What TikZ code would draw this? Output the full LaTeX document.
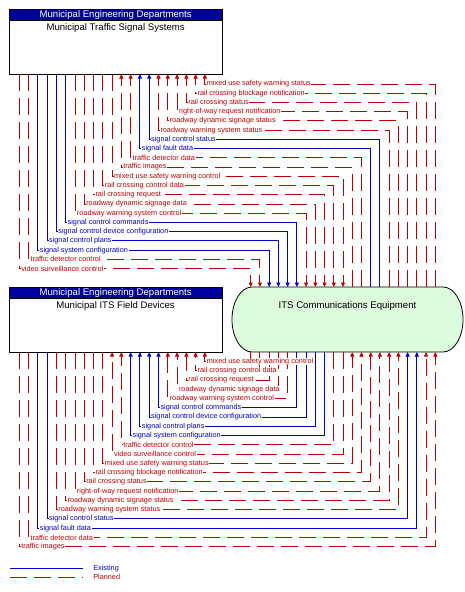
\documentclass[tikz,border=0pt]{standalone}
\usepackage{fontspec}
\setmainfont{Liberation Sans}
\usetikzlibrary{arrows.meta}
\definecolor{cR}{RGB}{192,0,0}
\definecolor{cB}{RGB}{0,0,200}
\definecolor{hdr}{RGB}{0,0,160}
\definecolor{itsfill}{RGB}{221,251,221}
\newcommand{\ftitle}{\fontsize{9.6}{11}\selectfont}
\newcommand{\flabel}{\fontsize{7.3}{8}\selectfont}
\begin{document}
\begin{tikzpicture}[x=1pt,y=-1pt,
  sysbox/.style={draw=black,line width=0.8pt,fill=white,inner sep=0pt,outer sep=0pt},
  hdrbox/.style={draw=black,line width=0.8pt,fill=hdr,text=white,font=\ftitle,inner sep=0pt,outer sep=0pt},
  ttl/.style={font=\ftitle,inner sep=0pt},
  lnR/.style={draw=cR,line width=0.9pt,dash pattern=on 17pt off 7pt},
  lnB/.style={draw=cB,line width=0.9pt},
  txR/.style={text=cR},
  txB/.style={text=cB},
  lbl/.style={font=\flabel,fill=white,inner xsep=0.6pt,inner ysep=0.3pt,anchor=west},
  flowtip/.style={-{Triangle[length=4.5pt,width=4pt]}}
]
\useasboundingbox (0,0) rectangle (464,592);

% boxes
\node[sysbox,anchor=north west,minimum width=212.7pt,minimum height=65pt] (tss) at (9.3,9) {};
\node[hdrbox,anchor=north west,minimum width=212.7pt,minimum height=11.7pt] (tssh) at (tss.north west) {Municipal Engineering Departments};
\node[ttl,anchor=base] (tsst) at (115.6,30.6) {Municipal Traffic Signal Systems};

\node[sysbox,anchor=north west,minimum width=212.7pt,minimum height=64.7pt] (fd) at (9.3,287.3) {};
\node[hdrbox,anchor=north west,minimum width=212.7pt,minimum height=11.4pt] (fdh) at (fd.north west) {Municipal Engineering Departments};
\node[ttl,anchor=base] (fdt) at (115.6,308.6) {Municipal ITS Field Devices};

\node[inner sep=0pt,outer sep=0pt,minimum width=231pt,minimum height=65pt] (its) at (347.5,319.5) {};
\draw[line width=0.8pt,fill=itsfill] ([xshift=20pt]its.north west) -- ([xshift=-20pt]its.north east)
  arc[start angle=-90,end angle=90,x radius=20,y radius=32.5]
  -- ([xshift=20pt]its.south west)
  arc[start angle=90,end angle=270,x radius=20,y radius=32.5] -- cycle;
\node[ttl,anchor=base] (itst) at (347.5,308.6) {ITS Communications Equipment};

\def\toplist{0/R/mixed use safety warning status,1/R/rail crossing blockage notification,2/R/rail crossing status,3/R/right-of-way request notification,4/R/roadway dynamic signage status,5/R/roadway warning system status,6/B/signal control status,7/B/signal fault data,8/R/traffic detector data,9/R/traffic images,10/R/mixed use safety warning control,11/R/rail crossing control data,12/R/rail crossing request,13/R/roadway dynamic signage data,14/R/roadway warning system control,15/B/signal control commands,16/B/signal control device configuration,17/B/signal control plans,18/B/signal system configuration,19/R/traffic detector control,20/R/video surveillance control}

\def\botlist{0/R/mixed use safety warning control,1/R/rail crossing control data,2/R/rail crossing request,3/R/roadway dynamic signage data,4/R/roadway warning system control,5/B/signal control commands,6/B/signal control device configuration,7/B/signal control plans,8/B/signal system configuration,9/R/traffic detector control,10/R/video surveillance control,11/R/mixed use safety warning status,12/R/rail crossing blockage notification,13/R/rail crossing status,14/R/right-of-way request notification,15/R/roadway dynamic signage status,16/R/roadway warning system status,17/B/signal control status,18/B/signal fault data,19/R/traffic detector data,20/R/traffic images}

% top connectors
\foreach \j/\c/\t in \toplist {
  \pgfmathsetmacro\bx{19.3+9.28*(20-\j)}
  \pgfmathsetmacro\ax{250.7+9.23*(20-\j)}
  \pgfmathsetmacro\yy{84+9.23*\j}
  \ifnum\j<10
    \draw[ln\c,flowtip] (\ax,0 |- its.north) |- (\bx,\yy) -- (\bx,0 |- tss.south);
  \else
    \draw[ln\c,flowtip] (\bx,0 |- tss.south) |- (\ax,\yy) -- (\ax,0 |- its.north);
  \fi
}
% bottom connectors
\foreach \j/\c/\t in \botlist {
  \pgfmathsetmacro\fx{19.3+9.28*(20-\j)}
  \pgfmathsetmacro\ax{250.7+9.23*\j}
  \pgfmathsetmacro\yy{361.5+9.26*\j}
  \ifnum\j<11
    \draw[ln\c,flowtip] (\ax,0 |- its.south) |- (\fx,\yy) -- (\fx,0 |- fd.south);
  \else
    \draw[ln\c,flowtip] (\fx,0 |- fd.south) |- (\ax,\yy) -- (\ax,0 |- its.south);
  \fi
}
% labels
\foreach \j/\c/\t in \toplist {
  \pgfmathsetmacro\bx{19.3+9.28*(20-\j)}
  \pgfmathsetmacro\yy{84+9.23*\j}
  \node[lbl,tx\c] (tl\j) at (\bx+1.2,\yy) {\t};
}
\foreach \j/\c/\t in \botlist {
  \pgfmathsetmacro\fx{19.3+9.28*(20-\j)}
  \pgfmathsetmacro\yy{361.5+9.26*\j}
  \node[lbl,tx\c] (bl\j) at (\fx+1.2,\yy) {\t};
}

% legend
\coordinate (lga) at (10,568.3);
\coordinate (lgb) at (83.3,568.3);
\coordinate (lgc) at (10,577.3);
\coordinate (lgd) at (83.3,577.3);
\draw[lnB] (lga) -- (lgb);
\draw[lnR] (lgc) -- (lgd);
\node[lbl,txB,fill=none] (lgex) at (92.5,568.3) {Existing};
\node[lbl,txR,fill=none] (lgpl) at (92.5,577.3) {Planned};
\end{tikzpicture}
\end{document}
